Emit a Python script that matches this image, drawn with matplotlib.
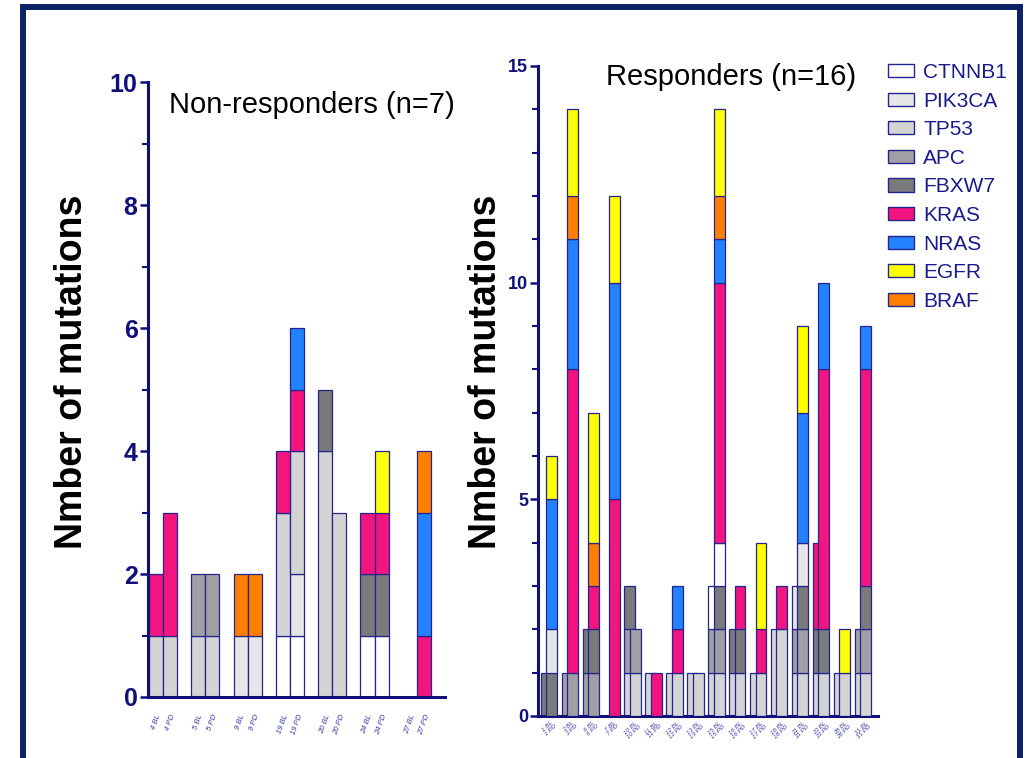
import matplotlib
matplotlib.use("Agg")
import matplotlib.pyplot as plt
from matplotlib.patches import Patch, Rectangle
import numpy as np

plt.rcParams['font.family'] = ['Liberation Sans', 'DejaVu Sans']

NAVY = '#10107a'
EDGE = '#24248c'

genes = ["CTNNB1", "PIK3CA", "TP53", "APC", "FBXW7", "KRAS", "NRAS", "EGFR", "BRAF"]
gene_colors = {
    "CTNNB1": "#ffffff",
    "PIK3CA": "#e6e6e6",
    "TP53": "#d4d4d4",
    "APC": "#a0a0a4",
    "FBXW7": "#7a7a7a",
    "KRAS": "#f2157f",
    "NRAS": "#2481ff",
    "EGFR": "#ffff00",
    "BRAF": "#ff8000",
}

# ---- Non-responders: BL and PD bar per patient ----
left_patients = ["4", "5", "9", "19", "20", "24", "27"]
#                4BL 4PD 5BL 5PD 9BL 9PD 19BL 19PD 20BL 20PD 24BL 24PD 27BL 27PD
left_ctnnb1 = [0, 0, 0, 0, 0, 0, 1, 1, 0, 0, 1, 1, 0, 0]
left_pik3ca = [0, 0, 0, 0, 1, 1, 0, 1, 0, 0, 0, 0, 0, 0]
left_tp53 = [1, 1, 1, 1, 0, 0, 2, 2, 4, 3, 0, 0, 0, 0]
left_apc = [0, 0, 1, 1, 0, 0, 0, 0, 0, 0, 0, 0, 0, 0]
left_fbxw7 = [0, 0, 0, 0, 0, 0, 0, 0, 1, 0, 1, 1, 0, 0]
left_kras = [1, 2, 0, 0, 0, 0, 1, 1, 0, 0, 1, 1, 0, 1]
left_nras = [0, 0, 0, 0, 0, 0, 0, 1, 0, 0, 0, 0, 0, 2]
left_egfr = [0, 0, 0, 0, 0, 0, 0, 0, 0, 0, 0, 1, 0, 0]
left_braf = [0, 0, 0, 0, 1, 1, 0, 0, 0, 0, 0, 0, 0, 1]
left_order = ["CTNNB1", "PIK3CA", "TP53", "APC", "FBXW7", "KRAS", "NRAS", "BRAF", "EGFR"]

# ---- Responders: BL and PD bar per patient ----
right_patients = ["1", "2", "6", "7", "10", "11", "12", "13",
                  "15", "16", "17", "18", "21", "23", "28", "31"]
#               p1    p2    p6    p7    p10   p11   p12   p13   p15   p16   p17   p18   p21   p23   p28   p31
right_tp53 = [0, 0, 0, 0, 0, 0, 0, 0, 1, 1, 1, 0, 1, 1, 1, 1, 1, 1, 1, 1, 1, 1, 2, 2, 1, 1, 1, 1, 1, 1, 1, 1]
right_apc = [0, 0, 1, 1, 1, 1, 0, 0, 1, 1, 0, 0, 0, 0, 0, 0, 1, 1, 0, 0, 0, 0, 0, 0, 1, 1, 0, 0, 0, 0, 1, 1]
right_fbxw7 = [1, 1, 0, 0, 1, 1, 0, 0, 1, 0, 0, 0, 0, 0, 0, 0, 0, 1, 1, 1, 0, 0, 0, 0, 0, 1, 1, 1, 0, 0, 0, 1]
right_ctnnb1 = [0, 0, 0, 0, 0, 0, 0, 0, 0, 0, 0, 0, 0, 0, 0, 0, 1, 1, 0, 0, 0, 0, 0, 0, 0, 0, 0, 0, 0, 0, 0, 0]
right_pik3ca = [0, 1, 0, 0, 0, 0, 0, 0, 0, 0, 0, 0, 0, 0, 0, 0, 0, 0, 0, 0, 0, 0, 0, 0, 1, 1, 0, 0, 0, 0, 0, 0]
right_kras = [0, 0, 0, 7, 0, 1, 0, 5, 0, 0, 0, 1, 0, 1, 0, 0, 0, 6, 0, 1, 0, 1, 0, 1, 0, 0, 2, 6, 0, 0, 0, 5]
right_nras = [0, 3, 0, 3, 0, 0, 0, 5, 0, 0, 0, 0, 0, 1, 0, 0, 0, 1, 0, 0, 0, 0, 0, 0, 0, 3, 0, 2, 0, 0, 0, 1]
right_braf = [0, 0, 0, 1, 0, 1, 0, 0, 0, 0, 0, 0, 0, 0, 0, 0, 0, 1, 0, 0, 0, 0, 0, 0, 0, 0, 0, 0, 0, 0, 0, 0]
right_egfr = [0, 1, 0, 2, 0, 3, 0, 2, 0, 0, 0, 0, 0, 0, 0, 0, 0, 2, 0, 0, 0, 2, 0, 0, 0, 2, 0, 0, 0, 1, 0, 0]
right_order = ["TP53", "APC", "FBXW7", "CTNNB1", "PIK3CA", "KRAS", "NRAS", "BRAF", "EGFR"]

left_counts = dict(CTNNB1=left_ctnnb1, PIK3CA=left_pik3ca, TP53=left_tp53, APC=left_apc,
                   FBXW7=left_fbxw7, KRAS=left_kras, NRAS=left_nras, EGFR=left_egfr,
                   BRAF=left_braf)
right_counts = dict(CTNNB1=right_ctnnb1, PIK3CA=right_pik3ca, TP53=right_tp53, APC=right_apc,
                    FBXW7=right_fbxw7, KRAS=right_kras, NRAS=right_nras, EGFR=right_egfr,
                    BRAF=right_braf)

fig = plt.figure(figsize=(10.26, 7.58), dpi=100)


def stack(ax, xs, width, counts, order, zorders):
    bottoms = np.zeros(len(xs))
    for g in order:
        vals = np.array(counts[g], dtype=float)
        for i, (x, v) in enumerate(zip(xs, vals)):
            if v > 0:
                ax.bar(x, v, width=width, bottom=bottoms[i], color=gene_colors[g],
                       edgecolor=EDGE, linewidth=0.9, zorder=zorders[i])
        bottoms += vals


def style_axis(ax, pad):
    for s in ("top", "right"):
        ax.spines[s].set_visible(False)
    for s in ("left", "bottom"):
        ax.spines[s].set_color(NAVY)
        ax.spines[s].set_linewidth(2.2)
    ax.tick_params(axis="y", which="major", direction="out", length=6, width=1.8,
                   colors=NAVY, pad=pad)
    ax.tick_params(axis="y", which="minor", direction="out", length=4, width=1.5,
                   colors=NAVY)
    ax.tick_params(axis="x", length=0, colors="#3a3aa8")
    for lab in ax.get_yticklabels():
        lab.set_color(NAVY)
        lab.set_fontweight("bold")


# Left panel
axL = fig.add_axes([148 / 1026, 1 - 697 / 758, (445 - 148) / 1026, (697 - 82) / 758])
slots = np.array([3 * p + k for p in range(len(left_patients)) for k in (0, 1)], dtype=float)
stack(axL, slots, 1.0, left_counts, left_order, [2] * len(slots))
axL.set_xlim(-0.57, 20.5)
axL.set_ylim(0, 10)
axL.set_yticks([0, 2, 4, 6, 8, 10])
axL.set_yticks([1, 3, 5, 7, 9], minor=True)
axL.set_yticklabels(["0", "2", "4", "6", "8", "10"], fontsize=18, fontweight="bold")
axL.set_xticks(slots)
axL.set_xticklabels([f"{p} {t}" for p in left_patients for t in ("BL", "PD")],
                    rotation=70, fontsize=5.5, style="italic", ha="center")
axL.tick_params(axis="x", pad=12)
style_axis(axL, pad=1.5)
axL.set_ylabel("Nmber of mutations", fontsize=27, fontweight="bold")
axL.yaxis.set_label_coords(-0.195, 0.528)
axL.text(0.07, 0.985, "Non-responders (n=7)", transform=axL.transAxes, fontsize=21,
         va="top", ha="left")

# Right panel
axR = fig.add_axes([538 / 1026, 1 - 716 / 758, (878 - 538) / 1026, (716 - 66) / 758])
pairs = np.arange(len(right_patients), dtype=float)
rx = np.array([p + d for p in pairs for d in (-0.13, 0.13)])
rz = [2 if k % 2 == 0 else 3 for k in range(len(rx))]
stack(axR, rx, 0.52, right_counts, right_order, rz)
axR.set_xlim(-0.52, 15.72)
axR.set_ylim(0, 15)
axR.set_yticks([0, 5, 10, 15])
axR.set_yticks([v for v in range(1, 15) if v % 5], minor=True)
axR.set_yticklabels(["0", "5", "10", "15"], fontsize=13, fontweight="bold")
axR.set_xticks(pairs)
axR.set_xticklabels([f"{p} BL\n{p} PD" for p in right_patients], rotation=45,
                    fontsize=4.5, style="italic", ha="center", linespacing=0.9)
axR.tick_params(axis="x", pad=3)
style_axis(axR, pad=1.0)
axR.set_ylabel("Nmber of mutations", fontsize=27, fontweight="bold")
axR.yaxis.set_label_coords(-0.1, 0.529)
axR.text(0.2, 1.005, "Responders (n=16)", transform=axR.transAxes, fontsize=21,
         va="top", ha="left")

# Legend
handles = [Patch(facecolor=gene_colors[g], edgecolor=EDGE, linewidth=1.0) for g in genes]
leg = fig.legend(handles, genes, loc="upper left", bbox_to_anchor=(888 / 1026, 1 - 63 / 758),
                 frameon=False, fontsize=15, handlelength=1.25, handleheight=0.6,
                 handletextpad=0.45, labelspacing=0.46, borderpad=0, borderaxespad=0)
for t in leg.get_texts():
    t.set_color("#1a1a8c")

# Outer frame
fig.add_artist(Rectangle((23 / 1026, -0.05), (1019.5 - 23) / 1026, 0.9908 + 0.05,
                         transform=fig.transFigure, fill=False, edgecolor="#0b2266",
                         linewidth=4.3, clip_on=False))

fig.savefig("out.png", dpi=100, facecolor="white")
